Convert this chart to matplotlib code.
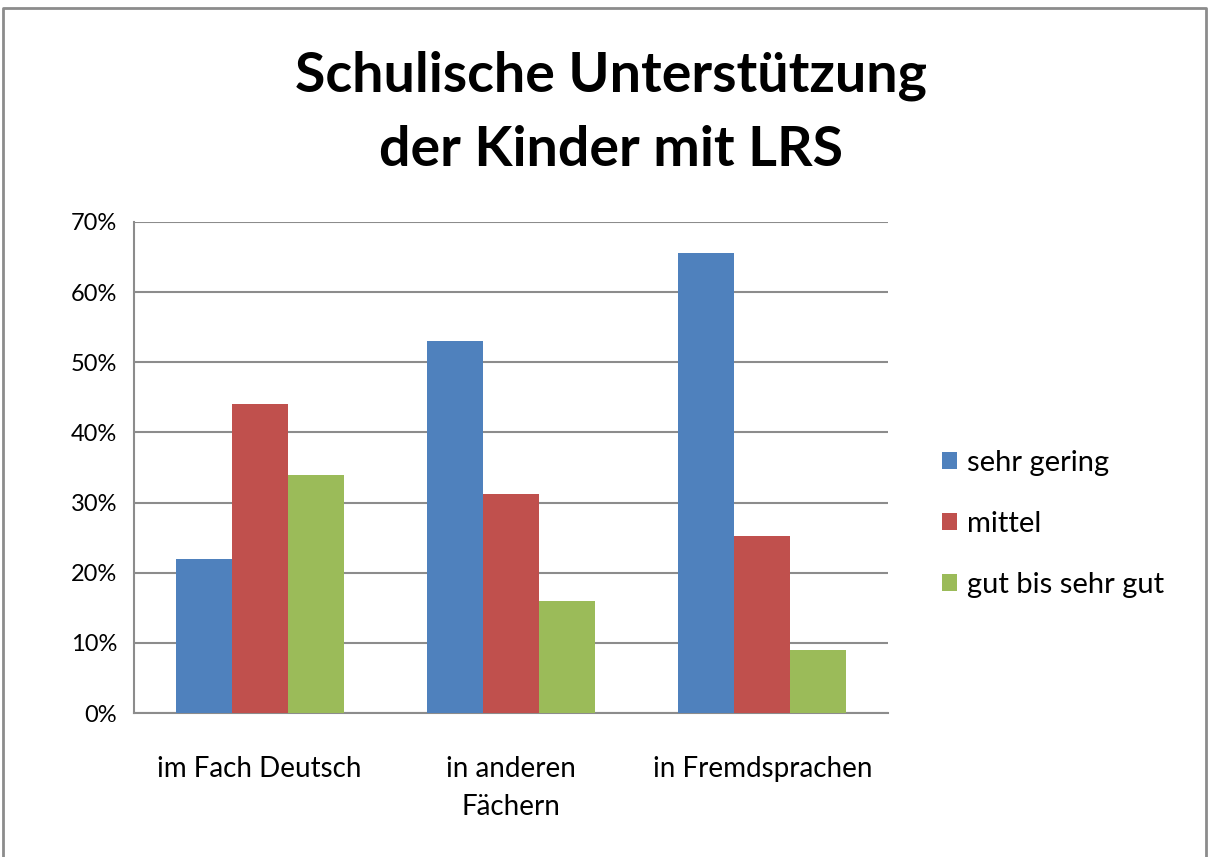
import numpy as np
import matplotlib.pyplot as plt
from matplotlib.lines import Line2D
from matplotlib.ticker import PercentFormatter

plt.rcParams['font.family'] = ['Lato', 'DejaVu Sans']

#%% Data
categories = ['im Fach Deutsch', 'in anderen\nFächern', 'in Fremdsprachen']
series = ['sehr gering', 'mittel', 'gut bis sehr gut']
sehr_gering = [22, 53, 65.6]
mittel = [44, 31.2, 25.2]
gut = [34, 16, 9]
values = [sehr_gering, mittel, gut]
colors = ['#4f81bd', '#c0504d', '#9bbb59']

#%% Plot
fig = plt.figure(figsize=(12.1, 8.57), dpi=100)
ax = fig.add_axes([134/1210, 1-713/857, (888-134)/1210, (713-222)/857])

x = np.arange(len(categories))
w = 0.223
for i in range(len(series)):
    ax.bar(x + (i-1)*w, values[i], width=w, color=colors[i], label=series[i], zorder=3)

ax.set_xlim(-0.5, 2.5)
ax.set_ylim(0, 70)
ax.set_yticks(np.arange(0, 71, 10))
ax.yaxis.set_major_formatter(PercentFormatter(decimals=0))
ax.set_xticks(x)
ax.set_xticklabels(categories, fontsize=20, linespacing=1.55)
ax.tick_params(axis='y', labelsize=17, length=0, pad=12)
ax.tick_params(axis='x', length=0, pad=31)
ax.grid(axis='y', color='#8c8c8c', lw=1.5, zorder=0)
for s in ['top', 'right']:
    ax.spines[s].set_visible(False)
for s in ['left', 'bottom']:
    ax.spines[s].set_color('#8c8c8c')
    ax.spines[s].set_linewidth(1.5)

fig.text(0.505, 1-76/857, 'Schulische Unterstützung', ha='center', va='center',
         fontsize=40, fontweight='bold')
fig.text(0.505, 1-150/857, 'der Kinder mit LRS', ha='center', va='center',
         fontsize=40, fontweight='bold')

ax.legend(loc='center left', bbox_to_anchor=(0.757, 1-524/857), bbox_transform=fig.transFigure,
          frameon=False, fontsize=21, handlelength=0.5, handleheight=0.5,
          handletextpad=0.35, labelspacing=1.2)

# outer frame (left, top, right)
fig.add_artist(Line2D([3/1210, 3/1210, 1206/1210, 1206/1210], [0, 1-8/857, 1-8/857, 0],
                      transform=fig.transFigure, color='#8c8c8c', lw=2))

fig.savefig('out.png', dpi=100)
